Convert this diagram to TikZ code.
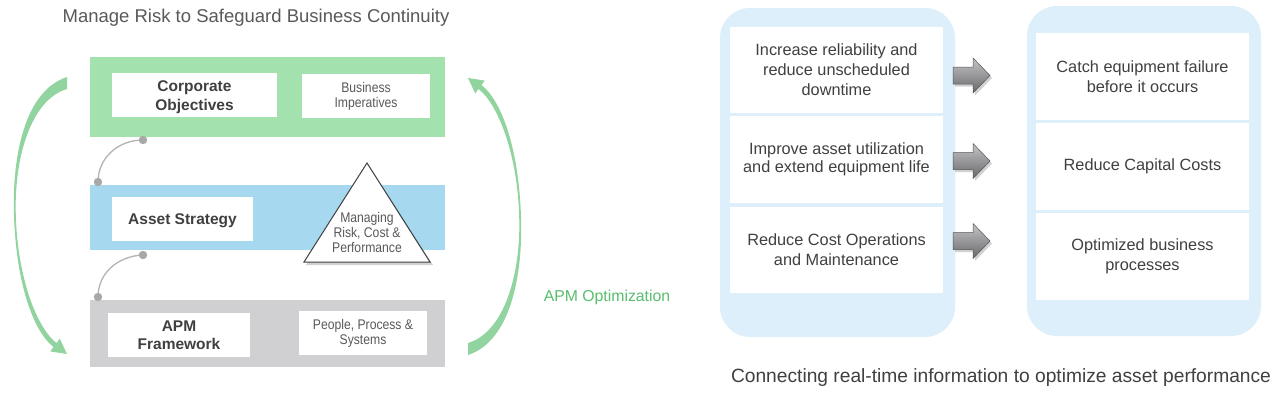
\documentclass[tikz,border=0pt]{standalone}
\usepackage{fontspec}
\setmainfont{Liberation Sans}
\newfontfamily\narrowfont[FakeStretch=0.87]{Liberation Sans}
\usetikzlibrary{calc}
\definecolor{bandgreen}{RGB}{163,226,174}
\definecolor{bandblue}{RGB}{166,216,240}
\definecolor{bandgray}{RGB}{208,208,210}
\definecolor{arcgreen}{RGB}{146,212,160}
\definecolor{optgreen}{RGB}{88,190,110}
\definecolor{panelblue}{RGB}{220,239,250}
\definecolor{txtdark}{RGB}{64,64,64}
\definecolor{txtgray}{RGB}{89,89,89}
\definecolor{conngray}{RGB}{180,180,180}
\definecolor{dotgray}{RGB}{168,168,168}
\definecolor{arrtop}{RGB}{196,196,198}
\definecolor{arrbot}{RGB}{105,105,108}
\begin{document}
\begin{tikzpicture}[x=1pt,y=-1pt,
  band/.style={fill=#1, draw=none, inner sep=0pt},
  wbox/.style={fill=white, draw=none, inner sep=0pt, align=center, text=txtdark},
  boldtxt/.style={font=\fontsize{15.5}{19}\selectfont\bfseries},
  smalltxt/.style={font=\narrowfont\fontsize{14}{15}\selectfont, text=txtgray},
  rtxt/.style={font=\fontsize{16.3}{20}\selectfont},
  panel/.style={fill=panelblue, draw=none, rounded corners=30pt, inner sep=0pt},
  conn/.style={draw=conngray, line width=1.3pt},
  dotfill/.style={fill=dotgray},
  arcarrow/.style={fill=arcgreen},
  blockarrow/.style={top color=arrtop, bottom color=arrbot, draw=arrbot!80!black, line width=0.5pt},
  shadowfill/.style={fill=black, opacity=0.18}
]
\useasboundingbox (0,0) rectangle (1280,405);
\fill[white] (0,0) rectangle (1280,405);

% ---------- left part ----------
\node[font=\fontsize{18.5}{22}\selectfont, text=txtgray] (title) at (256,17.5) {Manage Risk to Safeguard Business Continuity};

\node[band=bandgreen, minimum width=355pt, minimum height=80pt] (gband) at (267.5,97) {};
\node[band=bandblue, minimum width=355pt, minimum height=65pt] (bband) at (267.5,217.5) {};
\node[band=bandgray, minimum width=355pt, minimum height=67pt] (yband) at (267.5,333.5) {};

\node[wbox, minimum width=165pt, minimum height=44pt] (co) at (194.5,95) {};
\node[boldtxt, align=center, text=txtdark, inner sep=0pt] (cotxt) at (194.5,97) {Corporate\\Objectives};
\node[wbox, smalltxt, minimum width=128pt, minimum height=44pt] (bi) at (366,96) {Business\\Imperatives};
\node[wbox, minimum width=141pt, minimum height=44pt] (as) at (182.5,219) {};
\node[boldtxt, text=txtdark, inner sep=0pt] (astxt) at (182.5,221) {Asset Strategy};
\node[wbox, boldtxt, minimum width=142pt, minimum height=44pt, font=\fontsize{15.5}{18}\selectfont\bfseries] (apm) at (179,335) {APM\\Framework};
\node[wbox, smalltxt, minimum width=128pt, minimum height=44pt] (pps) at (363,333) {People, Process \&\\Systems};

% triangle with shadow
\fill[shadowfill] (369,166) -- (433,265) -- (306,265) -- cycle;
\draw[fill=white, draw=txtdark, line width=1pt] (367,163) coordinate (tapex) -- (430,262) coordinate (tright) -- (304,262) coordinate (tleft) -- cycle;
\node[smalltxt, align=center, inner sep=0pt] (tri) at (367,232.5) {Managing\\Risk, Cost \&\\Performance};

% gray connectors
\coordinate (g1) at (143,140);
\coordinate (b1) at (98,182);
\coordinate (b2) at (143,255);
\coordinate (y1) at (98,297);
\draw[conn] (g1) .. controls (118,140) and (98,158) .. (b1);
\draw[conn] (b2) .. controls (118,256) and (98,273) .. (y1);
\foreach \p in {g1,b1,b2,y1} \fill[dotfill] (\p) circle (4.2pt);

% green curved arrows
\fill[arcarrow] (67,77) .. controls (24,91) and (12,158) .. (14,215)
  .. controls (16,280) and (32,330) .. (53.5,347) -- (50.2,351.4) -- (67,354) -- (59.8,338.6) -- (56.5,343)
  .. controls (37,328) and (17.5,278) .. (15.8,215) .. controls (14,160) and (30,100) .. (67,89) -- cycle;
\begin{scope}[rotate around={180:(267.5,216)}]
\fill[arcarrow] (67,77) .. controls (24,91) and (12,158) .. (14,215)
  .. controls (16,280) and (32,330) .. (53.5,347) -- (50.2,351.4) -- (67,354) -- (59.8,338.6) -- (56.5,343)
  .. controls (37,328) and (17.5,278) .. (15.8,215) .. controls (14,160) and (30,100) .. (67,89) -- cycle;
\end{scope}

\node[font=\fontsize{15.8}{18}\selectfont, text=optgreen] (opt) at (607,297) {APM Optimization};

% ---------- right part ----------
\node[panel, minimum width=235pt, minimum height=329pt] (lp) at (837.5,172.5) {};
\node[panel, minimum width=234pt, minimum height=330pt] (rp) at (1144,171) {};

\node[wbox, rtxt, minimum width=213pt, minimum height=86pt] (l1) at (836.5,70) {Increase reliability and\\reduce unscheduled\\downtime};
\node[wbox, rtxt, minimum width=213pt, minimum height=87pt, font=\fontsize{16.3}{18.5}\selectfont] (l2) at (836.5,159.5) {Improve asset utilization\\and extend equipment life};
\node[wbox, rtxt, minimum width=213pt, minimum height=86pt] (l3) at (836.5,250) {Reduce Cost Operations\\and Maintenance};

\node[wbox, rtxt, minimum width=213pt, minimum height=87pt] (r1) at (1142.5,76.5) {Catch equipment failure\\before it occurs};
\node[wbox, rtxt, minimum width=213pt, minimum height=87pt] (r2) at (1142.5,166.5) {Reduce Capital Costs};
\node[wbox, rtxt, minimum width=213pt, minimum height=87pt] (r3) at (1142.5,256.5) {Optimized business\\processes};

\foreach \yy in {75.5,161,241} {
  \fill[shadowfill, shift={(955,\yy+2.5)}] (0,-8.5) -- (20,-8.5) -- (20,-17.5) -- (37,0) -- (20,17.5) -- (20,8.5) -- (0,8.5) -- cycle;
  \draw[blockarrow, shift={(953,\yy)}] (0,-8.5) -- (20,-8.5) -- (20,-17.5) -- (37,0) -- (20,17.5) -- (20,8.5) -- (0,8.5) -- cycle;
}

\node[font=\fontsize{19.2}{23}\selectfont, text=txtdark] (cap) at (1001,378) {Connecting real-time information to optimize asset performance};
\end{tikzpicture}
\end{document}
